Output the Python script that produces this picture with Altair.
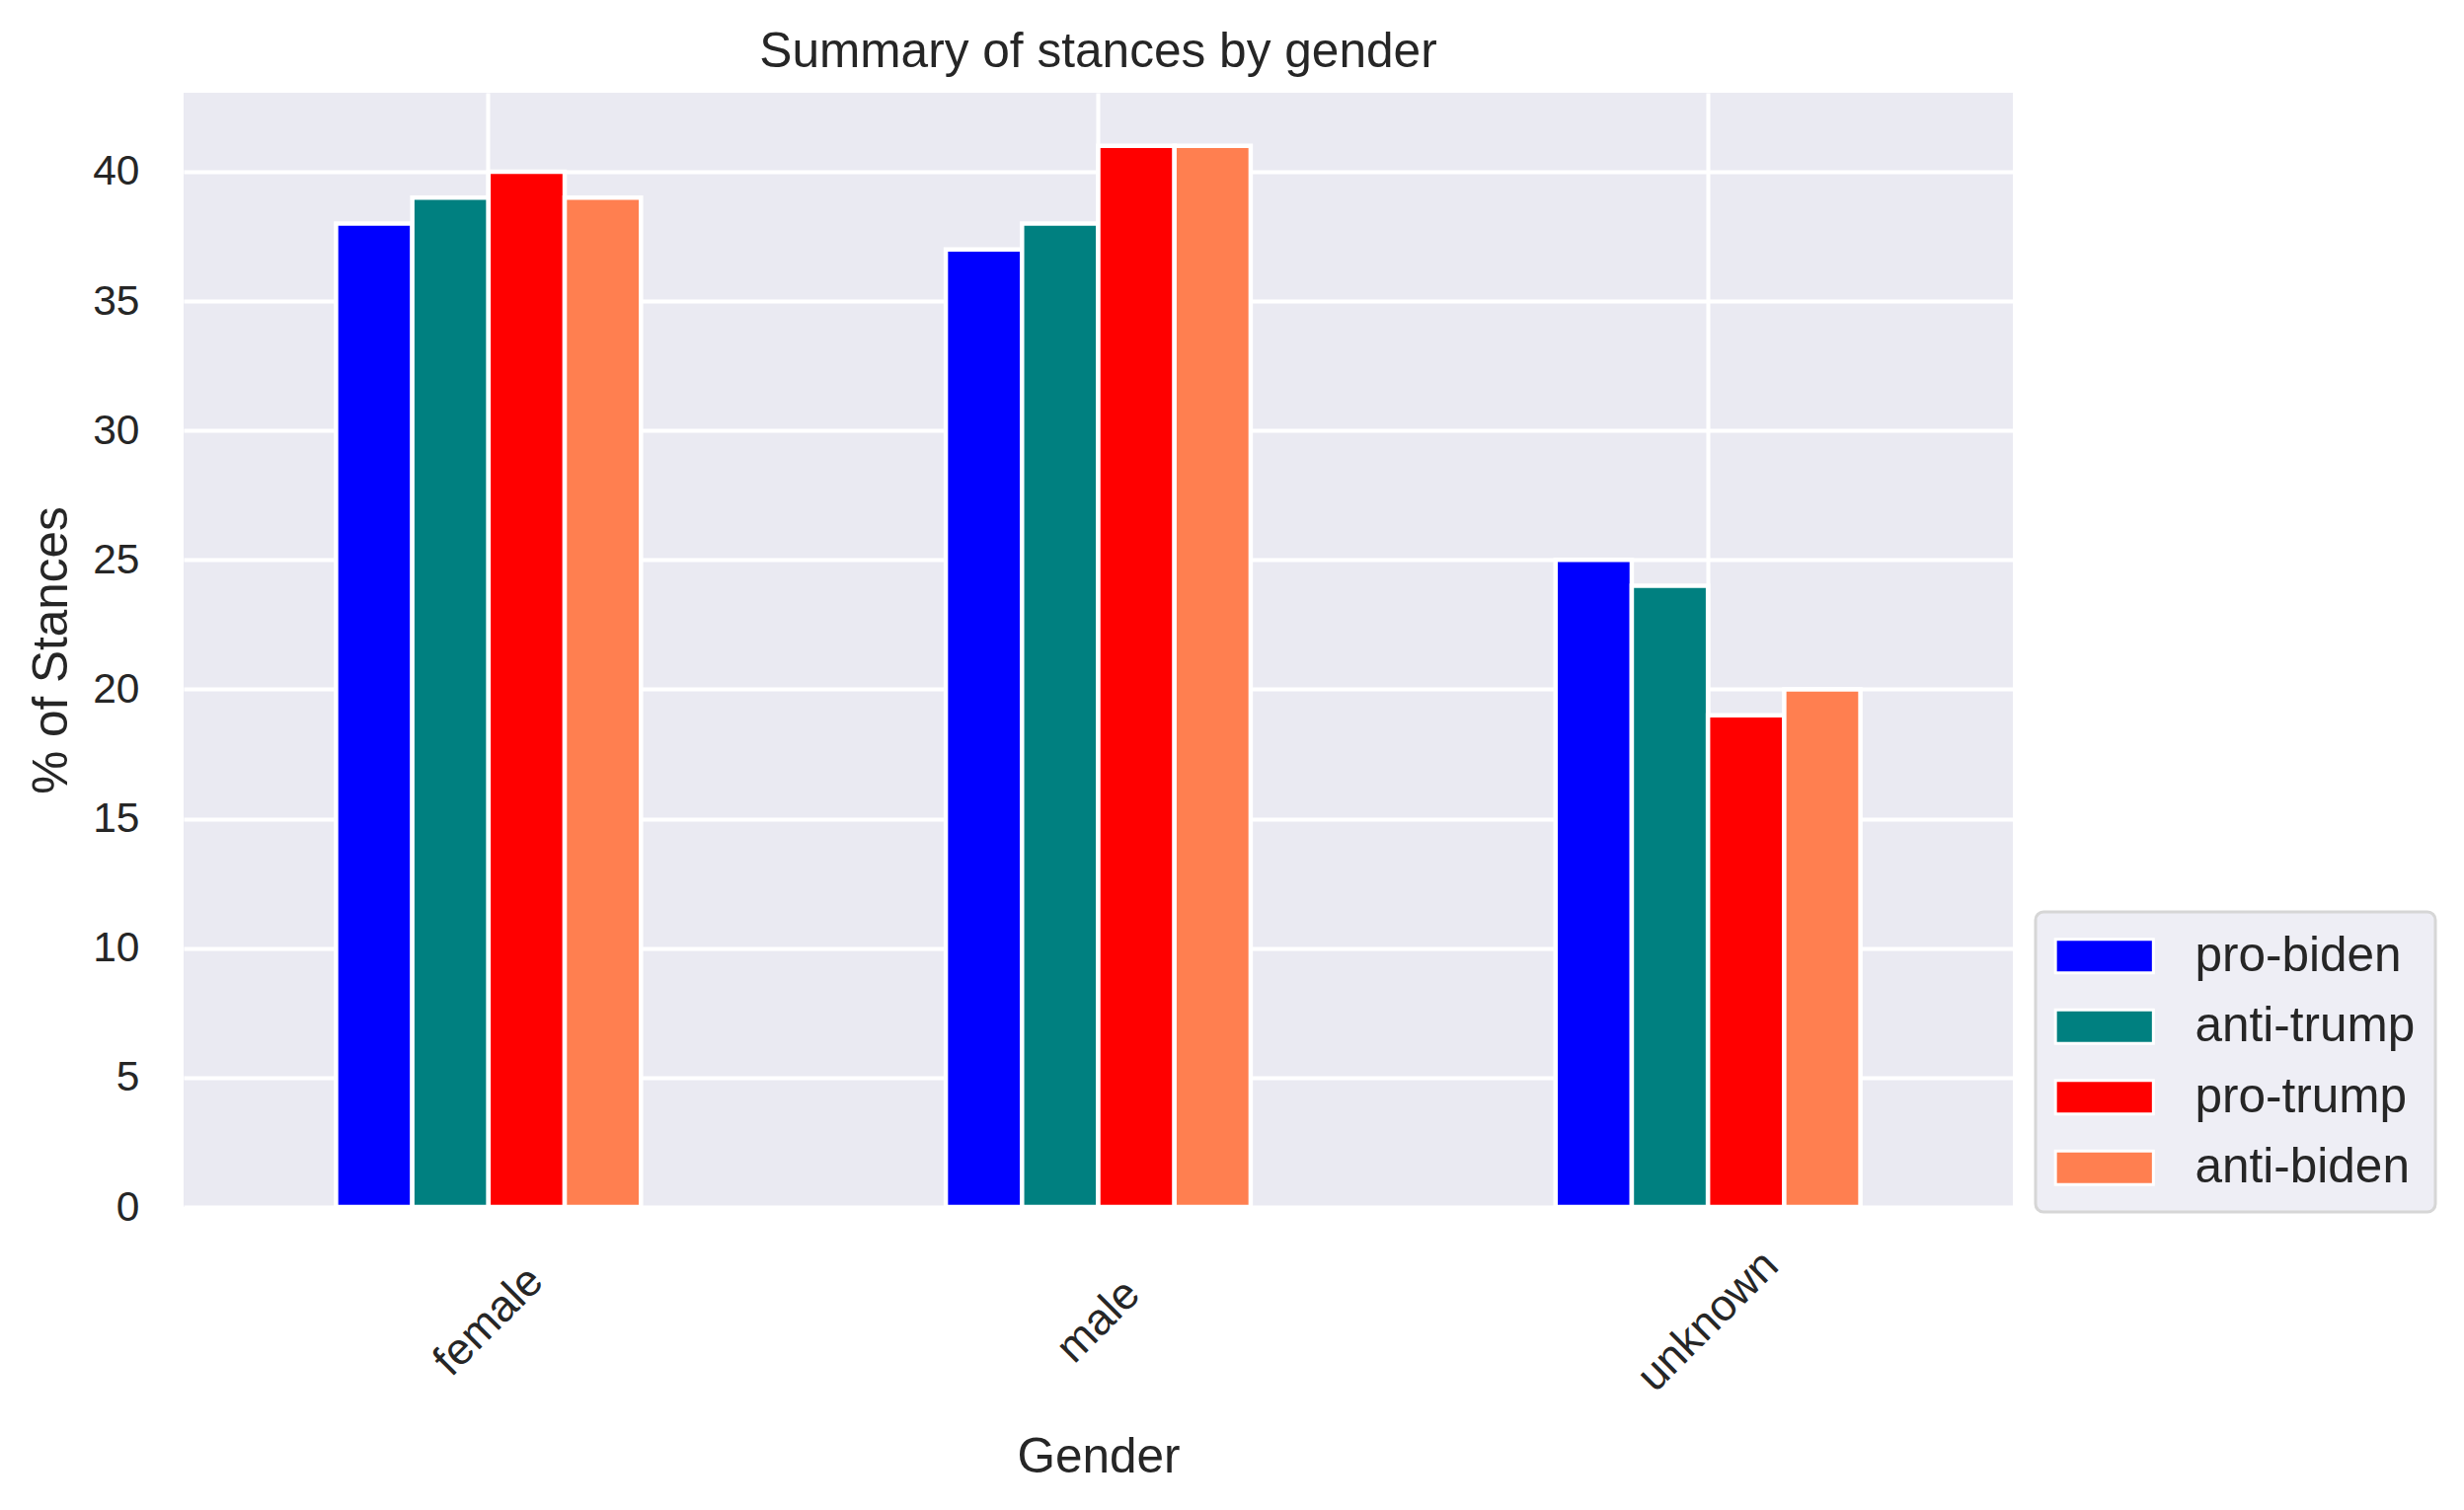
import altair as alt
import pandas as pd

genders = ["female", "male", "unknown"]
stances = ["pro-biden", "anti-trump", "pro-trump", "anti-biden"]
colors = ["#0000ff", "#008080", "#ff0000", "#ff7f50"]
pro_biden = [38, 37, 25]
anti_trump = [39, 38, 24]
pro_trump = [40, 41, 19]
anti_biden = [39, 41, 20]
y_ticks = [0, 5, 10, 15, 20, 25, 30, 35, 40]

series = {
    "pro-biden": pro_biden,
    "anti-trump": anti_trump,
    "pro-trump": pro_trump,
    "anti-biden": anti_biden,
}
rows = [
    {"gender": g, "stance": s, "pct": series[s][i]}
    for s in stances
    for i, g in enumerate(genders)
]
df = pd.DataFrame(rows)

FONT = "Liberation Sans"
TEXT = "#262626"

chart = (
    alt.Chart(df)
    .mark_bar(stroke="white", strokeWidth=4.5)
    .encode(
        x=alt.X(
            "gender:N",
            sort=genders,
            title="Gender",
            scale=alt.Scale(paddingInner=0.5, paddingOuter=0.25),
            axis=alt.Axis(
                labelAngle=315,
                labelAlign="center",
                labelBaseline="middle",
                labelPadding=115,
                labelFontSize=45,
                labelLimit=500,
                bandPosition=0.5,
                titlePadding=35,
            ),
        ),
        xOffset=alt.XOffset(
            "stance:N", sort=stances, scale=alt.Scale(paddingInner=0, paddingOuter=0)
        ),
        y=alt.Y(
            "pct:Q",
            title="% of Stances",
            scale=alt.Scale(domain=[0, 43.05], nice=False),
            axis=alt.Axis(values=y_ticks, labelPadding=45, labelFontSize=42.5, titlePadding=16),
        ),
        color=alt.Color(
            "stance:N",
            sort=stances,
            scale=alt.Scale(domain=stances, range=colors),
            legend=alt.Legend(
                title=None,
                orient="none",
                legendX=1876,
                legendY=830,
                padding=20,
                rowPadding=20.5,
                symbolType="M-3.1,-1.06H3.1V1.06H-3.1Z",
                symbolSize=1024,
                symbolOffset=25,
                symbolStrokeColor="white",
                symbolStrokeWidth=3,
                symbolOpacity=1,
                labelFontSize=49.5,
                labelFont=FONT,
                labelColor=TEXT,
                labelOffset=67,
                labelLimit=500,
                fillColor="#eeeef5",
                strokeColor="#d6d6d6",
                cornerRadius=8,
            ),
        ),
    )
    .properties(
        width=1853,
        height=1129,
        autosize=alt.AutoSizeParams(type="none"),
        padding={"left": 178, "top": 86, "right": 440, "bottom": 290},
        background="white",
        title=alt.TitleParams(
            text="Summary of stances by gender",
            fontSize=49.6,
            font=FONT,
            color=TEXT,
            fontWeight="normal",
            anchor="middle",
            frame="group",
            baseline="alphabetic",
            offset=27,
            dy=51,
        ),
    )
    .configure_view(fill="#EAEAF2", strokeWidth=0)
    .configure_axis(
        labelFont=FONT,
        titleFont=FONT,
        labelColor=TEXT,
        titleColor=TEXT,
        titleFontSize=49.5,
        titleFontWeight="normal",
        grid=True,
        gridColor="white",
        gridWidth=4,
        domain=False,
        ticks=False,
        tickSize=0,
    )
    .configure_legend(strokeWidth=3)
)

chart.save("out.html", embed_options={"renderer": "svg", "actions": False})
